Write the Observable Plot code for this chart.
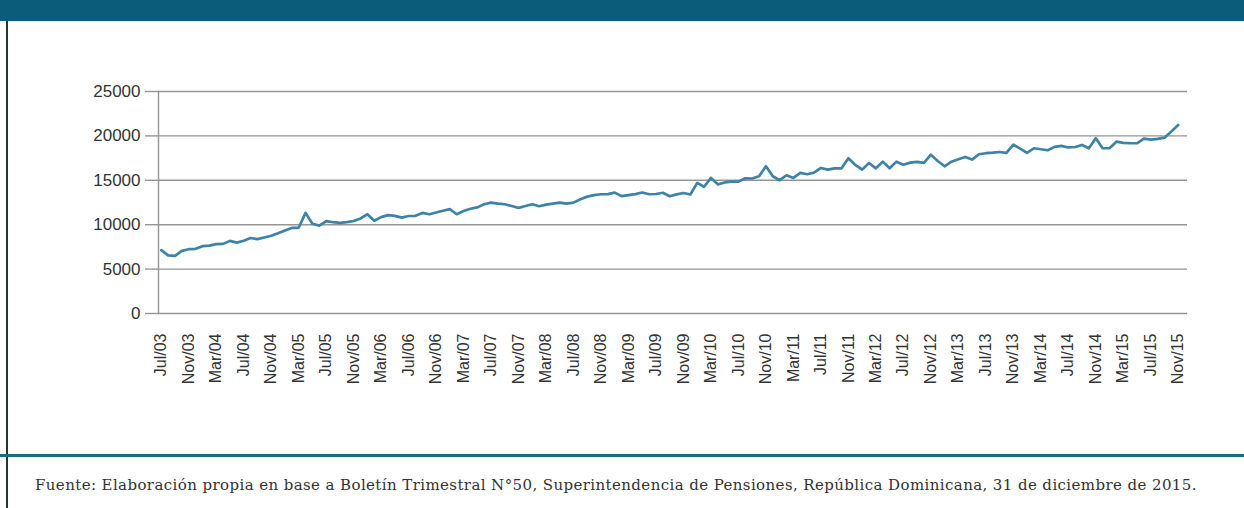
<!DOCTYPE html>
<html><head><meta charset="utf-8">
<script src="https://cdn.jsdelivr.net/npm/d3@7"></script>
<script src="https://cdn.jsdelivr.net/npm/@observablehq/plot@0.6"></script>
<style>
body{margin:0;background:#fff;}
#page{position:relative;width:1244px;height:508px;overflow:hidden;background:#fff;}
#band{position:absolute;left:0;top:0;width:1244px;height:21px;background:#0b5b7b;}
#lborder{position:absolute;left:6px;top:21px;width:2px;height:487px;background:#26352d;}
#chart{position:absolute;left:0;top:0;}
#rule{position:absolute;left:0;top:454px;width:1244px;height:3px;background:#1d6a86;}
#caption{position:absolute;left:35px;top:476px;font-family:"DejaVu Serif",serif;font-size:15px;letter-spacing:0.4px;color:#333;white-space:nowrap;}
</style></head>
<body>
<div id="page">
  <div id="band"></div>
  <div id="lborder"></div>
  <div id="chart"></div>
  <div id="rule"></div>
  <div id="caption">Fuente: Elaboración propia en base a Boletín Trimestral N°50, Superintendencia de Pensiones, República Dominicana, 31 de diciembre de 2015.</div>
</div>
<script>
// Monthly values, Jul/03 .. Nov/15 (149 months)
const values = [
  7130, 6550, 6490, 7050, 7240, 7280, 7580, 7650, 7820, 7840,
  8180, 7980, 8200, 8500, 8370, 8560, 8760, 9030, 9350, 9640,
  9650, 11330, 10100, 9900, 10400, 10280, 10200, 10290, 10420, 10700,
  11180, 10450, 10850, 11080, 11000, 10800, 10980, 11000, 11330, 11180,
  11380, 11570, 11750, 11180, 11550, 11800, 11950, 12300, 12490, 12370,
  12300, 12100, 11900, 12100, 12310, 12080, 12260, 12380, 12490, 12380,
  12490, 12870, 13160, 13330, 13430, 13450, 13610, 13220, 13330, 13450,
  13620, 13430, 13460, 13600, 13200, 13420, 13570, 13400, 14710, 14270,
  15270, 14540, 14760, 14850, 14850, 15230, 15200, 15460, 16580, 15460,
  15010, 15570, 15270, 15830, 15680, 15860, 16390, 16200, 16350, 16350,
  17480, 16730, 16200, 16950, 16350, 17100, 16350, 17100, 16760, 16990,
  17070, 16960, 17880, 17180, 16580, 17100, 17370, 17630, 17330, 17930,
  18050, 18110, 18190, 18080, 19010, 18570, 18080, 18610, 18500, 18380,
  18760, 18870, 18700, 18750, 18980, 18610, 19730, 18610, 18610, 19350,
  19210, 19170, 19170, 19700, 19580, 19670, 19800, 20500, 21230
];
const tickLabels = [
  "Jul/03","Nov/03",
  "Mar/04","Jul/04","Nov/04","Mar/05","Jul/05","Nov/05","Mar/06","Jul/06","Nov/06",
  "Mar/07","Jul/07","Nov/07","Mar/08","Jul/08","Nov/08","Mar/09","Jul/09","Nov/09",
  "Mar/10","Jul/10","Nov/10","Mar/11","Jul/11","Nov/11","Mar/12","Jul/12","Nov/12",
  "Mar/13","Jul/13","Nov/13","Mar/14","Jul/14","Nov/14","Mar/15","Jul/15","Nov/15"
];
const yTicks = [0, 5000, 10000, 15000, 20000, 25000];

const data = values.map((v, i) => ({i, v}));
const tickIdx = tickLabels.map((_, k) => k * 4);

const chart = Plot.plot({
  width: 1244, height: 440,
  marginLeft: 158, marginRight: 57, marginTop: 91, marginBottom: 127,
  x: {domain: [-0.4, 149.35]},
  y: {domain: [0, 25000]},
  style: {fontFamily: "'Liberation Sans', Arial, sans-serif", color: "#333", background: "transparent"},
  marks: [
    Plot.ruleY(yTicks, {stroke: "#959595", strokeWidth: 1.4}),
    Plot.frame({anchor: "left", stroke: "#959595", strokeWidth: 1.4}),
    Plot.axisY({ticks: yTicks, tickSize: 13, tickPadding: 5, fontSize: 17, stroke: "#959595", strokeWidth: 1.4, fill: "#333", label: null, tickFormat: d => String(d)}),
    Plot.axisX({ticks: tickIdx, tickFormat: d => tickLabels[Math.round(d / 4)], tickRotate: -90, tickSize: 0, tickPadding: 20, fontSize: 16, fill: "#333", label: null}),
    Plot.line(data, {x: "i", y: "v", stroke: "#3d83a5", strokeWidth: 2.7})
  ]
});
document.getElementById("chart").appendChild(chart);
</script>
</body></html>
